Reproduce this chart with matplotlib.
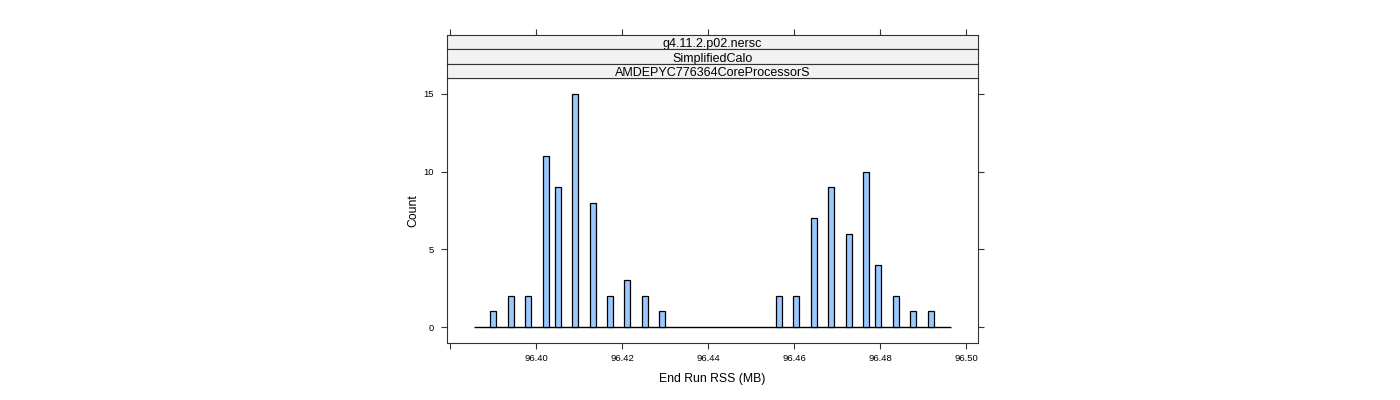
import numpy as np
import matplotlib
matplotlib.use("Agg")
import matplotlib.pyplot as plt

plt.rcParams["font.family"] = ["Liberation Sans", "DejaVu Sans"]

# histogram bins with non-zero counts (bin centre in MB, count)
bin_centers = [96.3900, 96.3942, 96.3981, 96.4023, 96.4051, 96.4091, 96.4133,
               96.4172, 96.4212, 96.4253, 96.4293,
               96.4565, 96.4605, 96.4647, 96.4686, 96.4728, 96.4767, 96.4795,
               96.4837, 96.4877, 96.4919]
counts = [1, 2, 2, 11, 9, 15, 8, 2, 3, 2, 1,
          2, 2, 7, 9, 6, 10, 4, 2, 1, 1]
bin_width = 0.0014
hist_range = (96.3856, 96.4965)

x_ticks = [96.38, 96.40, 96.42, 96.44, 96.46, 96.48, 96.50]
x_labels = ["", "96.40", "96.42", "96.44", "96.46", "96.48", "96.50"]
y_ticks = [0, 5, 10, 15]
strip_labels = ["g4.11.2.p02.nersc", "SimplifiedCalo", "AMDEPYC776364CoreProcessorS"]

xlim = (96.3793, 96.5028)
ylim = (-1.03, 16.03)
frame_col = "#333333"

fig = plt.figure(figsize=(14, 4), dpi=100)
ax = fig.add_axes([447 / 1400, 57 / 400, 531 / 1400, 265 / 400])

ax.hlines(0, hist_range[0], hist_range[1], color="black", linewidth=1)
ax.bar(bin_centers, counts, width=bin_width, color="#99C8FF",
       edgecolor="black", linewidth=0.9, zorder=3)

ax.set_xlim(*xlim)
ax.set_ylim(*ylim)
ax.set_xticks(x_ticks)
ax.set_xticklabels(x_labels)
ax.set_yticks(y_ticks)
ax.tick_params(axis="both", direction="out", length=4.5, width=0.8,
               color=frame_col, labelsize=6.8, pad=3.5)
ax.tick_params(axis="y", right=True, left=True, pad=5)
for s in ax.spines.values():
    s.set_color(frame_col)
    s.set_linewidth(0.8)
ax.set_xlabel("End Run RSS (MB)", fontsize=8.8, labelpad=7)
ax.set_ylabel("Count", fontsize=8.8, labelpad=3)

# strips above the panel
strip_h = 14.3
for i, lab in enumerate(strip_labels):
    top = 35 + i * strip_h
    sax = fig.add_axes([447 / 1400, (400 - top - strip_h) / 400,
                        531 / 1400, strip_h / 400])
    sax.set_facecolor("#F2F2F2")
    sax.set_xlim(*xlim)
    sax.set_yticks([])
    if i == 0:
        sax.set_xticks(x_ticks)
        sax.tick_params(axis="x", top=True, bottom=False, labeltop=False,
                        labelbottom=False, direction="out", length=4.5,
                        width=0.8, color=frame_col)
    else:
        sax.set_xticks([])
    for s in sax.spines.values():
        s.set_color(frame_col)
        s.set_linewidth(0.8)
    sax.text(0.5, 0.45, lab, transform=sax.transAxes, ha="center",
             va="center_baseline", fontsize=9)

fig.savefig("out.png", dpi=100)
